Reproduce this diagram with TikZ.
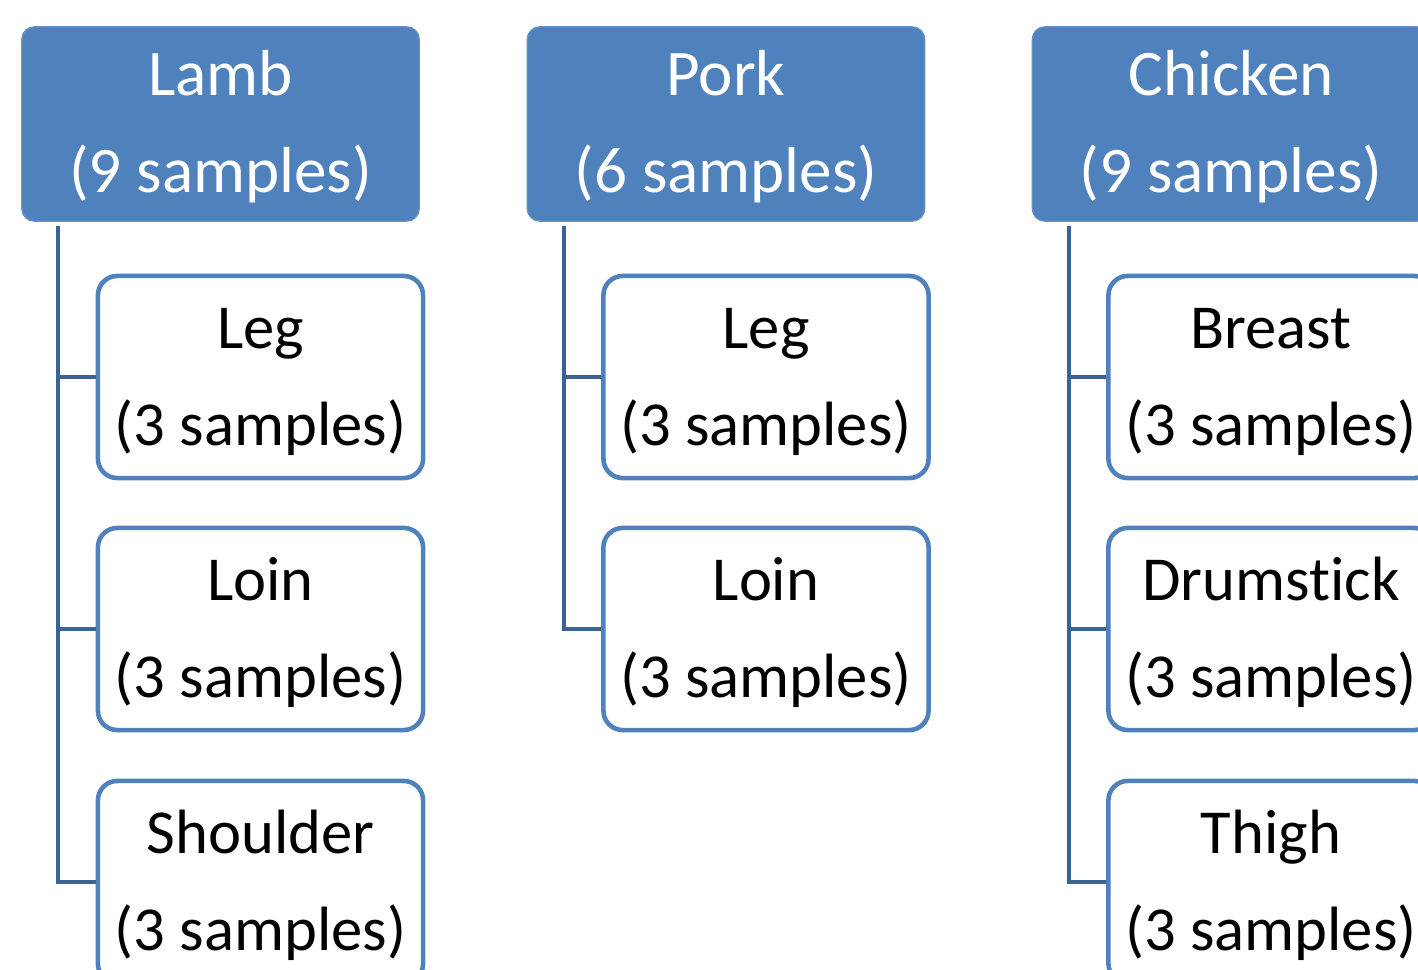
\documentclass[tikz,border=0pt]{standalone}
\usepackage{fontspec}
\setmainfont{Carlito}[Ligatures=NoCommon]
\usepackage{xcolor}
\definecolor{hBlue}{RGB}{79,129,189}
\definecolor{lineBlue}{RGB}{58,98,148}
\usepackage{tikz}
\usetikzlibrary{
  positioning,
  calc
}
\tikzset{
  headbox/.style={
    draw=hBlue!90!white,
    fill=hBlue,
    rounded corners=3.5pt,
    align=center,
    text=white,
    font=\fontsize{18.5}{27.6}\selectfont,
    text height=42pt,
    minimum width=3.97cm,
    minimum height=1.94cm,
    inner sep=0pt
  },
  cutbox/.style={
    draw=hBlue,
    fill=white,
    line width=1.3pt,
    rounded corners=5.5pt,
    align=center,
    text=black,
    font=\fontsize{17.8}{27.6}\selectfont,
    text height=42pt,
    minimum width=3.25cm,
    minimum height=2.02cm,
    inner sep=0pt
  },
  branch/.style={
    draw=lineBlue,
    line width=1.1pt
  }
}
\begin{document}
\begin{tikzpicture}[x=0.01cm, y=-0.01cm]
  \useasboundingbox (0,0) rectangle (1418,970);
  \clip (0,0) rectangle (1418,970);
  % Kinds of meat
  \node[headbox] (lamb) at (220.5,124) {Lamb\\(9 samples)};
  \node[headbox] (pork) at (726,124) {Pork\\(6 samples)};
  \node[headbox] (chicken) at (1231,124) {Chicken\\(9 samples)};

  % Cuts
  \node[cutbox] (lambleg) at (260.5,377) {Leg\\(3 samples)};
  \node[cutbox] (lambloin) at (260.5,629) {Loin\\(3 samples)};
  \node[cutbox] (lambshoulder) at (260.5,882) {Shoulder\\(3 samples)};

  \node[cutbox] (porkleg) at (766,377) {Leg\\(3 samples)};
  \node[cutbox] (porkloin) at (766,629) {Loin\\(3 samples)};

  \node[cutbox] (breast) at (1271,377) {Breast\\(3 samples)};
  \node[cutbox] (drumstick) at (1271,629) {Drumstick\\(3 samples)};
  \node[cutbox] (thigh) at (1271,882) {Thigh\\(3 samples)};

  \foreach \c in {lambleg,lambloin,lambshoulder}
    \draw[branch] ([xshift=3.7mm,yshift=-0.4mm]lamb.south west) |- (\c.west);
  \foreach \c in {porkleg,porkloin}
    \draw[branch] ([xshift=3.7mm,yshift=-0.4mm]pork.south west) |- (\c.west);
  \foreach \c in {breast,drumstick,thigh}
    \draw[branch] ([xshift=3.7mm,yshift=-0.4mm]chicken.south west) |- (\c.west);
\end{tikzpicture}
\end{document}
